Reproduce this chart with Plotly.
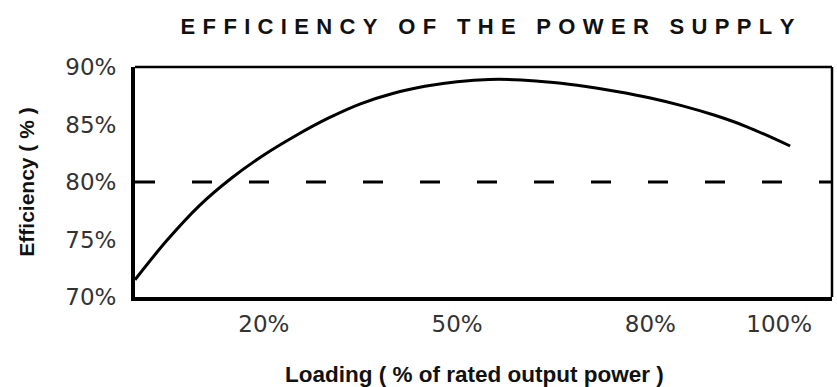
import plotly.graph_objects as go

loading = [0, 5, 10, 15, 20, 25, 30, 35, 40, 45, 50, 55, 60, 65, 70, 75, 80, 85, 90, 95, 101.7]
efficiency = [71.5, 74.95, 77.95, 80.35, 82.35, 84.05, 85.55, 86.8, 87.7, 88.32, 88.72, 88.92, 88.88, 88.65, 88.3, 87.85, 87.3, 86.62, 85.8, 84.8, 83.13]
x_ticks = [20, 50, 80, 100]
x_labels = ["20%", "50%", "80%", "100%"]
y_ticks = [70, 75, 80, 85, 90]
y_labels = ["70%", "75%", "80%", "85%", "90%"]
threshold = 80

title_text = "EFFICIENCY OF THE POWER SUPPLY"
sp = "\u2004"
title_spaced = (sp + "\u00a0" + sp).join(sp.join(list(w)) for w in title_text.split(" "))

fig = go.Figure()
fig.add_trace(go.Scatter(x=loading, y=efficiency, mode="lines",
                         line=dict(color="black", width=3, shape="spline", smoothing=1.0),
                         hoverinfo="skip", showlegend=False))
fig.add_shape(type="line", xref="paper", yref="y", x0=0, x1=1, y0=threshold, y1=threshold,
              line=dict(color="black", width=3, dash="20px,37px"))
# thinner top and right frame lines
fig.add_shape(type="line", xref="paper", yref="paper", x0=0, x1=1, y0=1, y1=1,
              line=dict(color="black", width=2.5))
fig.add_shape(type="line", xref="paper", yref="paper", x0=1, x1=1, y0=0, y1=1,
              line=dict(color="black", width=2.5))

fig.add_annotation(text="Loading ( % of rated output power )", xref="paper", yref="paper",
                   x=0.4864, y=-0.335, xanchor="center", yanchor="middle", showarrow=False,
                   font=dict(family="Liberation Sans", size=22.5, color="#111", weight="bold"))

fig.update_layout(
    width=837, height=387,
    margin=dict(l=135, r=5, t=67, b=90),
    paper_bgcolor="white", plot_bgcolor="white",
    title=dict(text=title_spaced, x=0.5824, xanchor="center", y=0.933, yanchor="middle",
               font=dict(family="Liberation Sans", size=22, color="#111", weight="bold")),
    xaxis=dict(range=[0, 108.2], tickvals=x_ticks, ticktext=x_labels, showgrid=False, zeroline=False,
               showline=True, mirror=False, linecolor="black", linewidth=4, ticks="",
               automargin=False, ticklabelstandoff=3,
               tickfont=dict(family="DejaVu Sans", size=23, color="#333")),
    yaxis=dict(range=[70, 90], tickvals=y_ticks, ticktext=y_labels, showgrid=False, zeroline=False,
               showline=True, mirror=False, linecolor="black", linewidth=4, ticks="",
               automargin=False, ticklabelstandoff=10,
               tickfont=dict(family="DejaVu Sans", size=23, color="#333"),
               title=dict(text="Efficiency ( % )", standoff=26,
                          font=dict(family="Liberation Sans", size=21, color="#111", weight="bold"))),
)

fig.write_html("out.html", config={"displayModeBar": False},
               post_script="document.body.style.margin='0px';document.body.style.overflow='hidden';")
